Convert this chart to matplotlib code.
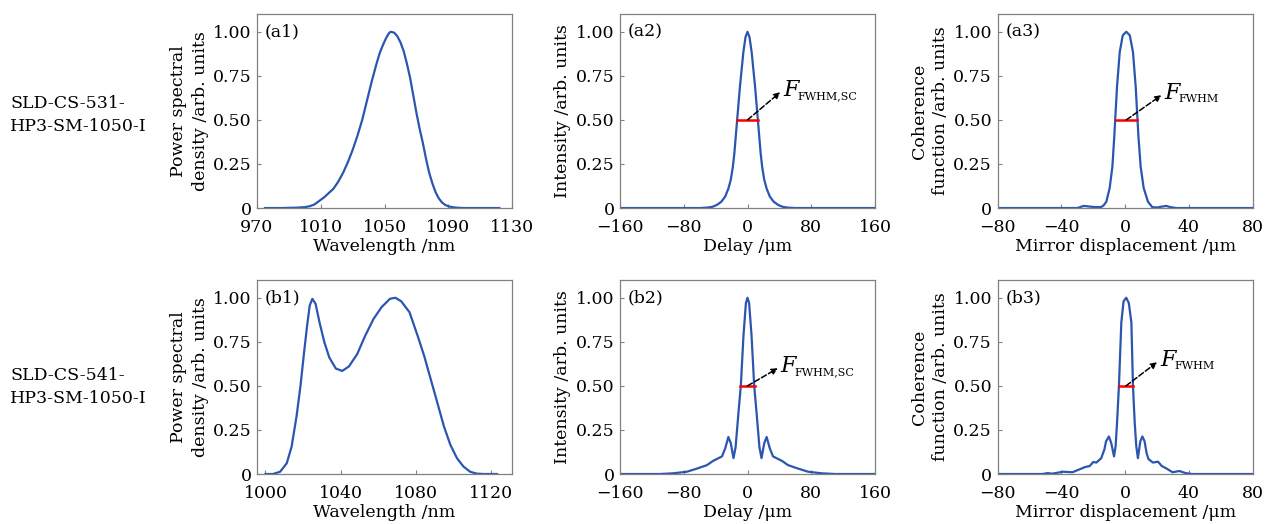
import numpy as np
import matplotlib
matplotlib.use('Agg')
from matplotlib import pyplot as plt
from matplotlib.transforms import offset_copy

plt.rcParams['font.family'] = ['DejaVu Serif']
plt.rcParams['mathtext.fontset'] = 'dejavuserif'

# spectra / interferograms
# row a: SLD-CS-531
a1_x = [975, 985, 995, 1000, 1003, 1006, 1009, 1012, 1015, 1018, 1021, 1024, 1027, 1030, 1033, 1036,
        1039, 1042, 1045, 1047, 1049, 1051, 1053, 1054, 1056, 1058, 1060, 1062, 1064, 1066, 1068, 1070,
        1072, 1074, 1076, 1078, 1080, 1082, 1084, 1086, 1088, 1090, 1093, 1097, 1100, 1110, 1122]
a1_y = [0, 0, 0.002, 0.005, 0.01, 0.02, 0.04, 0.06, 0.085, 0.11, 0.15, 0.2, 0.26, 0.33, 0.41, 0.5,
        0.61, 0.72, 0.82, 0.88, 0.925, 0.965, 0.995, 1.0, 0.995, 0.975, 0.94, 0.89, 0.82, 0.74, 0.64, 0.54,
        0.45, 0.37, 0.28, 0.2, 0.14, 0.09, 0.055, 0.032, 0.018, 0.01, 0.004, 0.001, 0, 0, 0]

a2_x = [-160, -60, -51, -44, -38.7, -33, -28, -24, -21, -18.5, -16.5, -13, -9.4, -5.2, -2.5, 0, 2.5,
        5.2, 9.4, 13, 16.5, 18.5, 21, 24, 28, 33, 38.7, 44, 51, 60, 160]
a2_y = [0, 0, 0.002, 0.007, 0.017, 0.035, 0.065, 0.11, 0.16, 0.23, 0.31, 0.5, 0.693, 0.884, 0.97, 1.0,
        0.97, 0.884, 0.693, 0.5, 0.31, 0.23, 0.16, 0.11, 0.065, 0.035, 0.017, 0.007, 0.002, 0, 0]

a3_x = [-80, -30, -26, -22, -18, -15, -13.5, -11.8, -9.7, -8, -6.8, -5.1, -3.4, -1.5, 0.7, 2.9, 4.9,
        6.6, 8.3, 9.7, 11.6, 14.3, 17, 20, 23, 25.8, 28, 32, 80]
a3_y = [0, 0, 0.012, 0.008, 0.005, 0.006, 0.015, 0.036, 0.114, 0.236, 0.41, 0.69, 0.885, 0.98, 1.0,
        0.98, 0.885, 0.69, 0.41, 0.236, 0.114, 0.036, 0.005, 0.003, 0.008, 0.012, 0.006, 0, 0]

# row b: SLD-CS-541
b1_x = [1000, 1004, 1007.8, 1011.3, 1013.9, 1016.5, 1018.6, 1020.3, 1022.1, 1023.5, 1024.9, 1026.6,
        1028.7, 1031.3, 1033.9, 1037.4, 1040.8, 1044.3, 1048.7, 1053, 1057.4, 1061.7, 1066.1, 1069,
        1072.1, 1076.5, 1080.8, 1084.3, 1087.8, 1091.3, 1094.8, 1098.2, 1101.7, 1105.2, 1108.7, 1112.2,
        1116, 1123]
b1_y = [0, 0, 0.013, 0.061, 0.156, 0.327, 0.5, 0.67, 0.84, 0.956, 0.994, 0.966, 0.861, 0.747, 0.661,
        0.598, 0.585, 0.61, 0.68, 0.785, 0.88, 0.947, 0.994, 1.0, 0.98, 0.918, 0.785, 0.67, 0.537, 0.404,
        0.27, 0.166, 0.09, 0.042, 0.013, 0.002, 0, 0]

b2_x = [-160, -110, -93, -76, -64, -51, -43, -38.5, -32, -28, -24, -21, -17.6, -15, -11.3, -8.4, -5,
        -2, 0, 2, 5, 8.4, 11.3, 15, 17.6, 21, 24, 28, 32, 38.5, 43, 51, 64, 76, 93, 110, 160]
b2_y = [0, 0, 0.004, 0.013, 0.03, 0.05, 0.075, 0.085, 0.10, 0.145, 0.21, 0.175, 0.09, 0.15, 0.35, 0.50,
        0.79, 0.97, 1.0, 0.97, 0.79, 0.50, 0.35, 0.15, 0.09, 0.175, 0.21, 0.145, 0.10, 0.085, 0.075, 0.05,
        0.03, 0.013, 0.004, 0, 0]

b3_x = [-80, -52, -48.7, -45.6, -39, -33, -29, -25, -22.3, -20, -18, -15, -13, -12, -10.2, -8.7, -7.0,
        -6.0, -5.1, -3.9, -2.4, -1, 0.7, 2.3, 3.9, 4.9, 6.0, 7.0, 8.0, 9.5, 10.8, 12.2, 13.4, 14.6, 17.4,
        20.6, 23, 25.8, 29.7, 34, 38, 42, 80]
b3_y = [0, 0, 0.005, 0.002, 0.013, 0.01, 0.025, 0.04, 0.045, 0.068, 0.065, 0.09, 0.14, 0.185, 0.213,
        0.175, 0.1, 0.156, 0.29, 0.5, 0.86, 0.98, 1.0, 0.97, 0.86, 0.5, 0.29, 0.156, 0.09, 0.185, 0.213,
        0.185, 0.12, 0.085, 0.065, 0.07, 0.045, 0.032, 0.01, 0.017, 0.005, 0, 0]

# FWHM marker ends and arrow tip (panels a2, a3, b2, b3)
fwhm_lo = [-13.6, -6.0, -9.6, -3.9]
fwhm_hi = [13.6, 7.4, 9.4, 4.9]
arrow_tip = [(41, 0.657), (22.7, 0.64), (38, 0.60), (20, 0.634)]
fwhm_sub = ['FWHM,SC', 'FWHM', 'FWHM,SC', 'FWHM']

row_names = ['SLD-CS-531-\nHP3-SM-1050-I', 'SLD-CS-541-\nHP3-SM-1050-I']
row_y = [0.780, 0.262]
panel_tags = [['(a1)', '(a2)', '(a3)'], ['(b1)', '(b2)', '(b3)']]
ylabels = ['Power spectral\ndensity /arb. units', 'Intensity /arb. units', 'Coherence\nfunction /arb. units']
xlabels = ['Wavelength /nm', 'Delay /\u03bcm', 'Mirror displacement /\u03bcm']

data = [[(a1_x, a1_y), (a2_x, a2_y), (a3_x, a3_y)],
        [(b1_x, b1_y), (b2_x, b2_y), (b3_x, b3_y)]]
xlims = [[(970, 1130), (-160, 160), (-80, 80)], [(995.5, 1131), (-160, 160), (-80, 80)]]
xticks = [[[970, 1010, 1050, 1090, 1130], [-160, -80, 0, 80, 160], [-80, -40, 0, 40, 80]],
          [[1000, 1040, 1080, 1120], [-160, -80, 0, 80, 160], [-80, -40, 0, 40, 80]]]

blue = '#2b56b0'
gray = '#808080'
fs = 12.5

fig = plt.figure(figsize=(12.66, 5.24), dpi=100)
lefts = [0.203, 0.4897, 0.788]
bottoms = [0.603, 0.0954]
w, h = 0.2015, 0.370

k = 0
for r in range(2):
    for c in range(3):
        ax = fig.add_axes([lefts[c], bottoms[r], w, h])
        x, y = data[r][c]
        ax.plot(x, y, color=blue, lw=1.6)
        ax.set_xlim(*xlims[r][c])
        ax.set_ylim(0, 1.1)
        ax.set_xticks(xticks[r][c])
        ax.set_xticklabels([str(t).replace('-', '\u2212') for t in xticks[r][c]])
        ax.set_yticks([0, 0.25, 0.5, 0.75, 1.0])
        ax.set_yticklabels(['0', '0.25', '0.50', '0.75', '1.00'])
        ax.tick_params(direction='in', length=3, color=gray, labelsize=fs)
        ax.tick_params(axis='x', pad=8)
        ax.tick_params(axis='y', pad=4)
        for s in ax.spines.values():
            s.set_color(gray)
            s.set_linewidth(0.9)
        ax.set_xlabel(xlabels[c], fontsize=fs, labelpad=1)
        ax.set_ylabel(ylabels[c], fontsize=fs, linespacing=1.35, labelpad=3)
        ax.text(0.03, 0.91, panel_tags[r][c], transform=ax.transAxes, fontsize=fs, va='center', ha='left')
        if c > 0:
            lo, hi = fwhm_lo[k], fwhm_hi[k]
            ax.plot([lo, hi], [0.5, 0.5], color='red', lw=1.8, zorder=3)
            tx, ty = arrow_tip[k]
            ax.annotate('', xy=(tx, ty), xytext=((lo + hi) / 2, 0.5),
                        arrowprops=dict(arrowstyle='-|>', color='k', lw=1.1, ls='--',
                                        mutation_scale=9, shrinkA=0, shrinkB=0), zorder=4)
            ax.text(tx, ty, 'F', fontsize=16, style='italic', ha='left', va='baseline',
                    transform=offset_copy(ax.transData, fig=fig, x=3, y=-4, units='dots'))
            ax.text(tx, ty, fwhm_sub[k], fontsize=8, ha='left', va='baseline',
                    transform=offset_copy(ax.transData, fig=fig, x=17, y=-7, units='dots'))
            k += 1
    fig.text(0.008, row_y[r], row_names[r], fontsize=fs, ha='left', va='center', linespacing=1.45)

fig.savefig('out.png', dpi=100)
